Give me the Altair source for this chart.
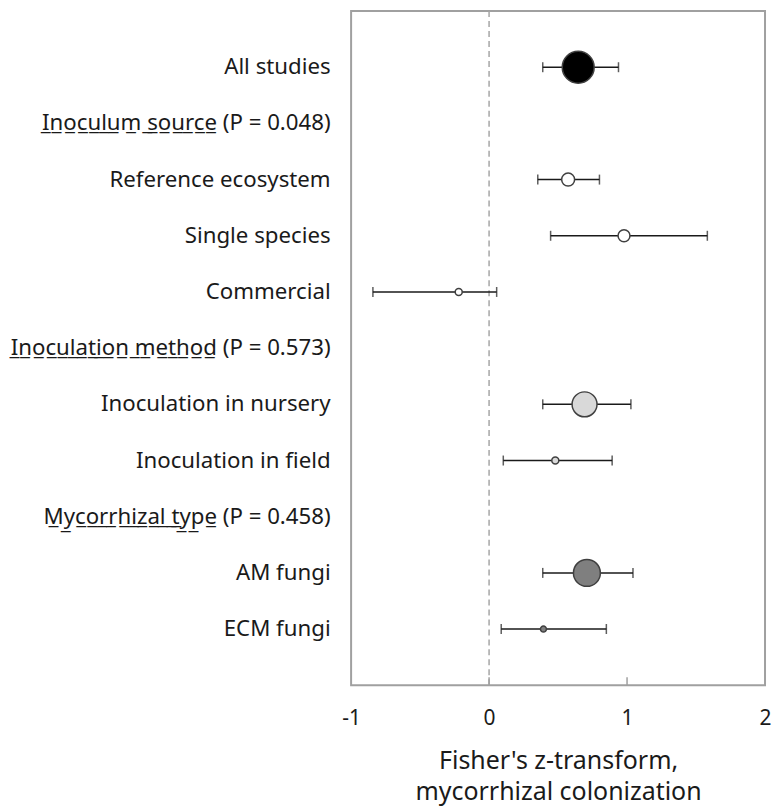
import altair as alt
import pandas as pd

UL = "\u0332"


def underline(s):
    return "".join(c + UL for c in s)


# ---- data ----
rows = ["All studies", "Inoculum source", "Reference ecosystem", "Single species",
        "Commercial", "Inoculation method", "Inoculation in nursery",
        "Inoculation in field", "Mycorrhizal type", "AM fungi", "ECM fungi"]
is_heading = [False, True, False, False, False, True, False, False, True, False, False]
p_values = [None, "0.048", None, None, None, "0.573", None, None, "0.458", None, None]
means = [0.646, None, 0.573, 0.978, -0.22, None, 0.692, 0.48, None, 0.709, 0.394]
lower = [0.389, None, 0.353, 0.446, -0.842, None, 0.389, 0.103, None, 0.389, 0.088]
upper = [0.938, None, 0.80, 1.582, 0.055, None, 1.028, 0.892, None, 1.043, 0.85]
rel_weight = [100, None, 16.5, 14, 4.8, None, 61, 4.8, None, 71, 3.5]
group = ["all", None, "source", "source", "source", None, "method", "method", None, "type", "type"]

group_domain = ["all", "source", "method", "type"]
group_colors = ["#000000", "#ffffff", "#d9d9d9", "#7f7f7f"]

labels = []
for r, h, p in zip(rows, is_heading, p_values):
    labels.append(f"{underline(r)} (P = {p})" if h else r)

df = pd.DataFrame({"label": labels, "mean": means, "lo": lower, "hi": upper,
                   "weight": rel_weight, "group": group})

W, H = 415, 676
FONT = "Noto Sans"
TXT = "#1a1a1a"

y_enc = alt.Y("label:N", scale=alt.Scale(domain=labels, padding=1),
              axis=alt.Axis(title=None, domain=False, ticks=False, labelPadding=21,
                            labelFontSize=22.3, labelFont=FONT, labelColor=TXT,
                            labelLimit=0))

x_axis = alt.Axis(values=[-1, 0, 1, 2], grid=False, domain=False, ticks=False,
                  labelFontSize=21, labelFont=FONT, labelColor=TXT, labelPadding=22,
                  labelExpr="toString(datum.value)", labelFlush=False,
                  title=["Fisher's z-transform,", "mycorrhizal colonization"],
                  titleFontSize=25, titleFont=FONT, titleFontWeight="normal",
                  titleColor=TXT, titlePadding=20, titleLineHeight=32)
x_scale = alt.Scale(domain=[-1, 2], nice=False, zero=False)


def X(field):
    return alt.X(field, scale=x_scale, axis=x_axis)


zero_line = alt.Chart(pd.DataFrame({"x": [0]})).mark_rule(
    color="#a6a6a6", strokeDash=[6, 4], strokeWidth=1.5).encode(x=X("x:Q"))

inner_ticks = alt.Chart(pd.DataFrame({"x": [0, 1]})).mark_rule(
    color="#a0a0a0", strokeWidth=1.5).encode(x=X("x:Q"), y=alt.value(H - 8), y2=alt.value(H))

valid = alt.Chart(df).transform_filter("isValid(datum.mean)")

bars = valid.mark_rule(color=TXT, strokeWidth=1.5).encode(
    x=X("lo:Q"), x2="hi:Q", y=y_enc)

caps = valid.transform_fold(["lo", "hi"], as_=["end", "xv"]).mark_tick(
    orient="vertical", size=10, thickness=1.5, color=TXT).encode(x=X("xv:Q"), y=y_enc)

points = valid.mark_point(shape="circle", filled=True, opacity=1, stroke="#404040",
                          strokeWidth=1.5).encode(
    x=X("mean:Q"), y=y_enc,
    size=alt.Size("weight:Q", scale=alt.Scale(domain=[0, 100], range=[0, 1024]), legend=None),
    fill=alt.Fill("group:N", scale=alt.Scale(domain=group_domain, range=group_colors), legend=None))

chart = alt.layer(zero_line, inner_ticks, bars, caps, points).properties(
    width=W, height=H, padding={"left": 2, "top": 1, "right": 0, "bottom": 0}
).configure_view(stroke="#a0a0a0", strokeWidth=2)

chart.save("out.html", embed_options={"renderer": "svg", "actions": False})
